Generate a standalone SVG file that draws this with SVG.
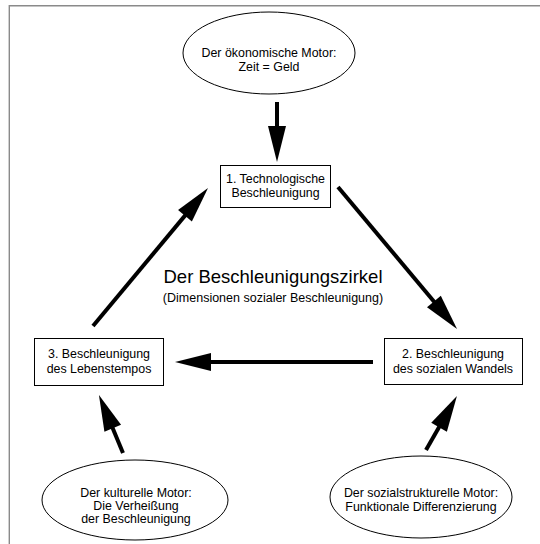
<svg xmlns="http://www.w3.org/2000/svg" width="540" height="544" viewBox="0 0 540 544">
<style>
text{font-family:"Liberation Sans",Arial,sans-serif;fill:#000;text-anchor:middle}
.n{font-size:12.4px}
.box{fill:#fff;stroke:#000;stroke-width:1}
.ell{fill:#fff;stroke:#000;stroke-width:1}
.arr{stroke:#000;stroke-width:4;fill:none;marker-end:url(#ah)}
.frame{stroke:#8a8a8a;stroke-width:1.4;fill:none}
</style>
<defs>
<marker id="ah" markerUnits="userSpaceOnUse" markerWidth="36" markerHeight="18" refX="16" refY="9" orient="auto" overflow="visible">
<path d="M0,0 L36,9 L0,18 Z" fill="#000"/>
</marker>
</defs>
<rect width="540" height="544" fill="#fff"/>
<path class="frame" d="M9.3,544 V5.8 H540"/>
<g id="connectors">
<line class="arr" x1="277" y1="102" x2="277" y2="142"/>
<line class="arr" x1="338" y1="187" x2="444.2" y2="313.7"/>
<line class="arr" x1="373" y1="362" x2="195" y2="362"/>
<line class="arr" x1="93" y1="326" x2="195.2" y2="203.4"/>
<line class="arr" x1="123" y1="453" x2="106.6" y2="413.5"/>
<line class="arr" x1="426" y1="450" x2="447" y2="413.3"/>
</g>
<g id="oekonomisch">
<ellipse class="ell" cx="269" cy="53" rx="86" ry="41"/>
<text class="n" x="269" y="57">Der ökonomische Motor:</text>
<text class="n" x="269" y="71">Zeit = Geld</text>
</g>
<g id="technologisch">
<rect class="box" x="220.5" y="165.5" width="110" height="42"/>
<text class="n" x="275.5" y="183">1. Technologische</text>
<text class="n" x="275.5" y="197">Beschleunigung</text>
</g>
<g id="wandel">
<rect class="box" x="384.5" y="338.5" width="138" height="46"/>
<text class="n" x="453" y="358">2. Beschleunigung</text>
<text class="n" x="453" y="373">des sozialen Wandels</text>
</g>
<g id="lebenstempo">
<rect class="box" x="34.5" y="338.5" width="129" height="47"/>
<text class="n" x="99" y="358">3. Beschleunigung</text>
<text class="n" x="99" y="373">des Lebenstempos</text>
</g>
<g id="kulturell">
<ellipse class="ell" cx="135" cy="500" rx="93" ry="40"/>
<text class="n" x="136" y="497">Der kulturelle Motor:</text>
<text class="n" x="136" y="510">Die Verheißung</text>
<text class="n" x="136" y="523">der Beschleunigung</text>
</g>
<g id="sozialstrukturell">
<ellipse class="ell" cx="421" cy="497" rx="91" ry="41"/>
<text class="n" x="421" y="497">Der sozialstrukturelle Motor:</text>
<text class="n" x="421" y="511">Funktionale Differenzierung</text>
</g>
<g id="titel">
<text x="273" y="283" style="font-size:18.5px">Der Beschleunigungszirkel</text>
<text x="273" y="302" style="font-size:12.5px">(Dimensionen sozialer Beschleunigung)</text>
</g>
</svg>
